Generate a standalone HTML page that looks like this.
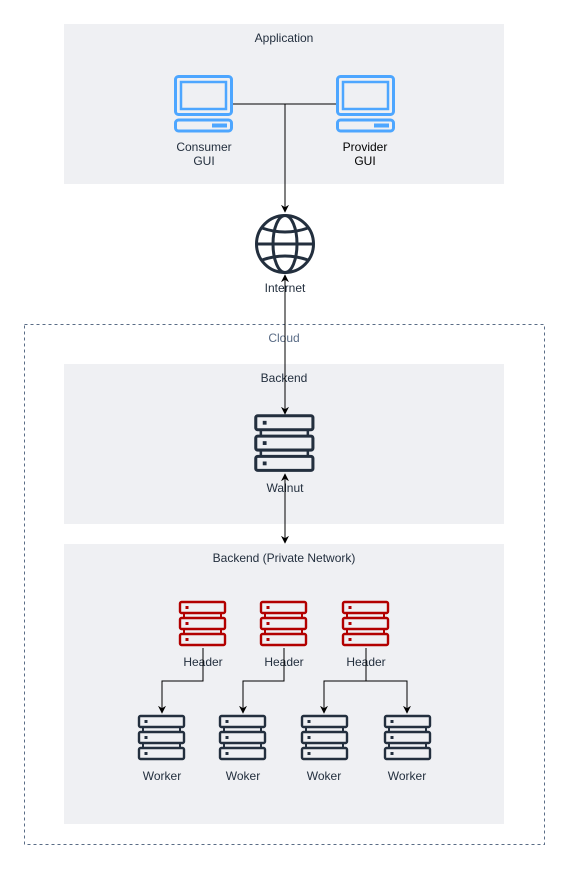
<!DOCTYPE html>
<html><head><meta charset="utf-8"><style>
html,body{margin:0;padding:0;background:#fff;}
svg text{font-family:"Liberation Sans",Arial,sans-serif;font-size:12px;text-anchor:middle;}
</style></head><body>
<svg width="569" height="869" viewBox="0 0 569 869" xmlns="http://www.w3.org/2000/svg">
<defs>
<marker id="ah" viewBox="0 0 10 10" markerWidth="8" markerHeight="8" refX="9" refY="5" orient="auto-start-reverse" markerUnits="userSpaceOnUse">
<path d="M0,0 L10,5 L0,10 L3,5 Z" fill="#000"/>
</marker>
<g id="srv">
<rect x="1" y="1" width="45" height="11" rx="1.5" fill="none" stroke-width="2.4"/>
<rect x="1" y="17" width="45" height="11" rx="1.5" fill="none" stroke-width="2.4"/>
<rect x="1" y="33" width="45" height="11" rx="1.5" fill="none" stroke-width="2.4"/>
<line x1="5" y1="12" x2="5" y2="17" stroke-width="2"/><line x1="42" y1="12" x2="42" y2="17" stroke-width="2"/>
<line x1="5" y1="28" x2="5" y2="33" stroke-width="2"/><line x1="42" y1="28" x2="42" y2="33" stroke-width="2"/>
<rect x="7" y="5.5" width="2" height="2"/><rect x="7" y="21.5" width="2" height="2"/><rect x="7" y="37.5" width="2" height="2"/>
</g>
<g id="pc">
<rect x="1.5" y="1.5" width="56" height="38" rx="3" fill="none" stroke="#4da6ff" stroke-width="3"/>
<rect x="7" y="7" width="45" height="27" fill="none" stroke="#4da6ff" stroke-width="2.5"/>
<rect x="1.5" y="45" width="56" height="11" rx="3" fill="none" stroke="#4da6ff" stroke-width="3"/>
<rect x="38" y="48.5" width="15" height="4" fill="#4da6ff"/>
</g>
</defs>

<rect x="64" y="24" width="440" height="160" fill="#eff0f3"/>
<text x="284" y="42" fill="#232f3e">Application</text>
<use href="#pc" x="174" y="75"/>
<use href="#pc" x="336" y="75"/>
<text x="204" y="151" fill="#232f3e">Consumer</text>
<text x="204" y="165" fill="#232f3e">GUI</text>
<text x="365" y="151" fill="#000">Provider</text>
<text x="365" y="165" fill="#000">GUI</text>
<path d="M233,104 H336 M285,104 V212" stroke="#000" fill="none" stroke-width="1" marker-end="url(#ah)"/>

<g fill="none" stroke="#232f3e" stroke-width="3">
<circle cx="285" cy="244" r="28.5"/>
<ellipse cx="285" cy="244" rx="12" ry="28.5"/>
<line x1="256.5" y1="244" x2="313.5" y2="244"/>
<path d="M262,228 Q285,236 308,228"/>
<path d="M262,260 Q285,252 308,260"/>
</g>
<text x="285" y="292" fill="#232f3e">Internet</text>

<rect x="24.5" y="324.5" width="520" height="520" fill="none" stroke="#5a6c86" stroke-dasharray="3,3"/>
<text x="284" y="342" fill="#5a6c86">Cloud</text>

<rect x="64" y="364" width="440" height="160" fill="#eff0f3"/>
<text x="284" y="382" fill="#232f3e">Backend</text>
<g transform="translate(254.5,414.5) scale(1.27)" stroke="#232f3e" fill="#232f3e"><use href="#srv"/></g>
<text x="285" y="492" fill="#232f3e">Walnut</text>
<path d="M285,275 V414" stroke="#000" stroke-width="1" fill="none" marker-start="url(#ah)" marker-end="url(#ah)"/>

<rect x="64" y="544" width="440" height="280" fill="#eff0f3"/>
<text x="284" y="562" fill="#232f3e">Backend (Private Network)</text>
<path d="M285,474 V543" stroke="#000" stroke-width="1" fill="none" marker-start="url(#ah)" marker-end="url(#ah)"/>

<g stroke="#b20000" fill="#b20000">
<use href="#srv" x="179" y="601"/>
<use href="#srv" x="260" y="601"/>
<use href="#srv" x="342" y="601"/>
</g>
<text x="203" y="666" fill="#232f3e">Header</text>
<text x="284" y="666" fill="#232f3e">Header</text>
<text x="366" y="666" fill="#232f3e">Header</text>

<g stroke="#000" stroke-width="1" fill="none">
<path d="M203,648 V681 H162 V713" marker-end="url(#ah)"/>
<path d="M284,648 V681 H243 V713" marker-end="url(#ah)"/>
<path d="M366,648 V681 H324 V713" marker-end="url(#ah)"/>
<path d="M366,681 H407 V713" marker-end="url(#ah)"/>
</g>

<g stroke="#232f3e" fill="#232f3e">
<use href="#srv" x="138" y="715"/>
<use href="#srv" x="219" y="715"/>
<use href="#srv" x="301" y="715"/>
<use href="#srv" x="384" y="715"/>
</g>
<text x="162" y="780" fill="#232f3e">Worker</text>
<text x="243" y="780" fill="#232f3e">Woker</text>
<text x="324" y="780" fill="#232f3e">Woker</text>
<text x="407" y="780" fill="#232f3e">Worker</text>
</svg>
</body></html>
